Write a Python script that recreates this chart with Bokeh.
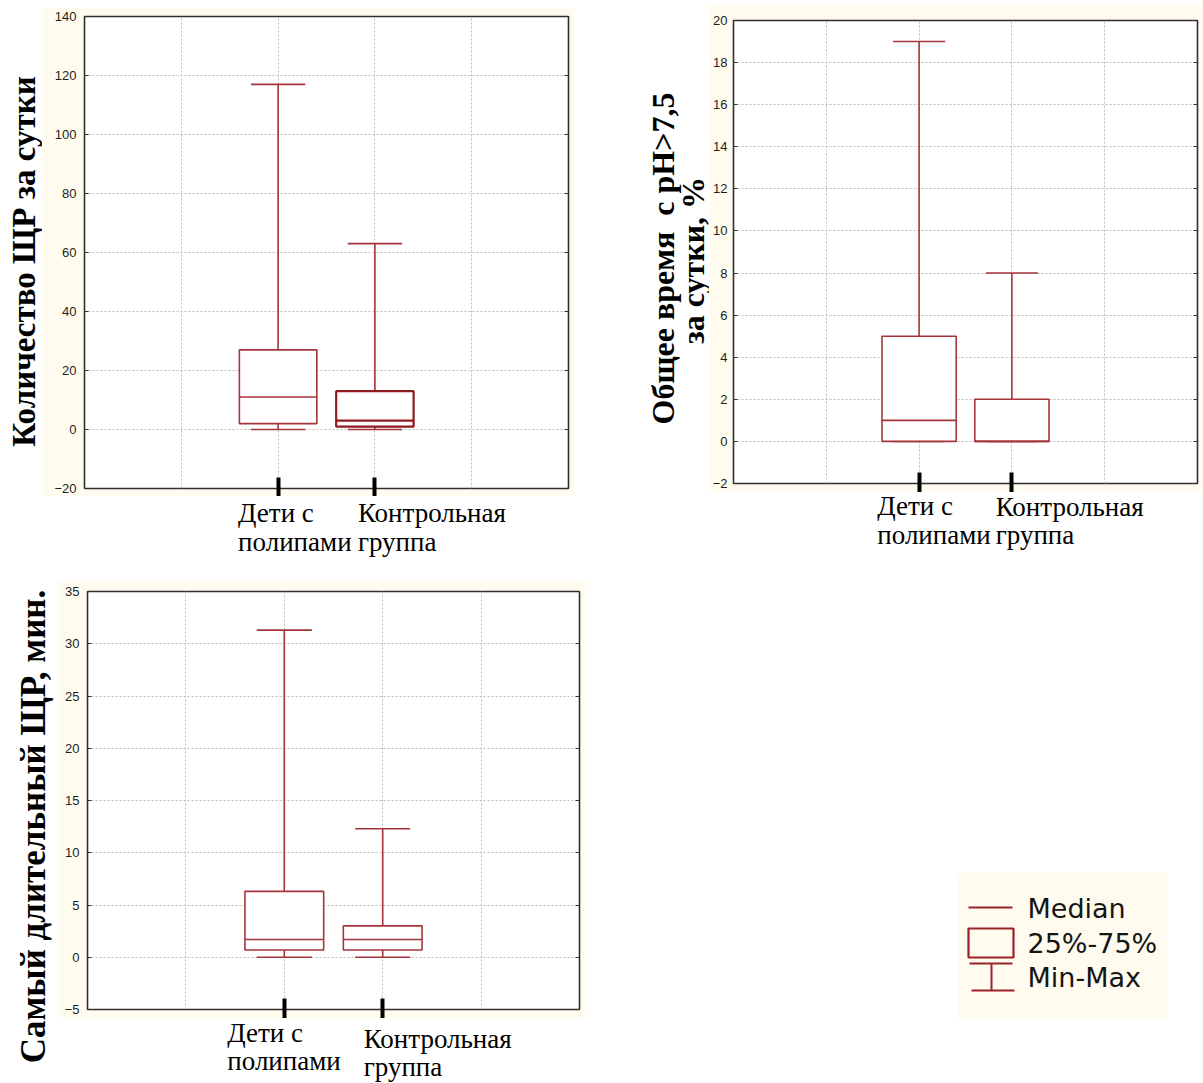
import math
from bokeh.plotting import figure
from bokeh.layouts import row, column
from bokeh.models import Range1d, FixedTicker, ColumnDataSource, Spacer, LinearAxis
from bokeh.embed import file_html
from bokeh.resources import INLINE
from bokeh.core.properties import value

# ---------------- data ----------------
cat_line1 = ["Дети с", "Контрольная"]
cat_line2 = ["полипами", "группа"]
cat_pos = [2, 3]
x_grid_ticks = [1, 2, 3, 4]

# Panel 1: Количество ЩР за сутки
p1_min = [0, 0]
p1_q1 = [2, 1]
p1_med = [11, 3]
p1_q3 = [27, 13]
p1_max = [117, 63]
p1_ticks = [-20, 0, 20, 40, 60, 80, 100, 120, 140]

# Panel 2: Общее время с pH>7,5 за сутки, %
p2_min = [0, 0]
p2_q1 = [0, 0]
p2_med = [1, 0]
p2_q3 = [5, 2]
p2_max = [19, 8]
p2_ticks = [-2, 0, 2, 4, 6, 8, 10, 12, 14, 16, 18, 20]

# Panel 3: Самый длительный ЩР, мин.
p3_min = [0, 0]
p3_q1 = [0.7, 0.7]
p3_med = [1.7, 1.7]
p3_q3 = [6.3, 3.0]
p3_max = [31.3, 12.3]
p3_ticks = [-5, 0, 5, 10, 15, 20, 25, 30, 35]

legend_labels = ["Median", "25%-75%", "Min-Max"]

# ---------------- styles ----------------
CREAM = "#FFFCEF"
RED = "#A5353A"
DARK = "#8E1B1F"
SERIF = "Liberation Serif"
SANS = "Liberation Sans"
BOX_HALF = 0.4
CAP_HALF = 0.28


def bare(width, height, x_range, y_range, bl=0, br=0, bt=0, bb=0):
    p = figure(width=width, height=height, x_range=x_range, y_range=y_range,
               toolbar_location=None, output_backend="svg", title=None,
               x_axis_location=None, y_axis_location=None, frame_align=False)
    p.min_border = 0
    p.min_border_left = bl
    p.min_border_right = br
    p.min_border_top = bt
    p.min_border_bottom = bb
    p.outline_line_color = None
    for g in p.grid:
        g.visible = False
    p.background_fill_color = "white"
    p.border_fill_color = "white"
    return p


def core(width, height, borders, ticks, mn, q1, med, q3, mx, box_colors, box_widths,
         standoff=8):
    bl, br, bt, bb = borders
    p = figure(width=width, height=height, x_range=Range1d(0, 5),
               y_range=Range1d(ticks[0], ticks[-1]), toolbar_location=None,
               output_backend="svg", title=None, frame_align=False)
    p.min_border = 0
    p.min_border_left = bl
    p.min_border_right = br
    p.min_border_top = bt
    p.min_border_bottom = bb
    p.background_fill_color = "white"
    p.border_fill_color = CREAM
    p.outline_line_color = "#2e2e2e"
    p.outline_line_width = 1.6

    yax = p.yaxis[0]
    yax.ticker = FixedTicker(ticks=ticks)
    yax.axis_line_color = None
    yax.major_tick_in = 4
    yax.major_tick_out = 0
    yax.minor_tick_line_color = None
    yax.major_tick_line_color = "#333333"
    yax.major_label_standoff = standoff
    yax.major_label_text_font = SANS
    yax.major_label_text_font_size = "13px"
    yax.major_label_text_color = "#1e1e1e"

    rax = LinearAxis(ticker=FixedTicker(ticks=ticks), axis_line_color=None,
                     major_tick_in=4, major_tick_out=0, minor_tick_line_color=None,
                     major_tick_line_color="#333333", major_label_standoff=0,
                     major_label_text_font_size="0px",
                     major_label_overrides={t: "" for t in ticks})
    p.add_layout(rax, "right")

    xax = p.xaxis[0]
    xax.ticker = FixedTicker(ticks=cat_pos)
    xax.axis_line_color = None
    xax.major_tick_in = 11
    xax.major_tick_out = bb
    xax.major_tick_line_width = 4
    xax.major_tick_line_color = "black"
    xax.minor_tick_line_color = None
    xax.major_label_standoff = 0
    xax.major_label_text_font_size = "0px"
    xax.major_label_overrides = {2: "", 3: ""}

    p.xgrid.ticker = FixedTicker(ticks=x_grid_ticks)
    for g in (p.xgrid[0], p.ygrid[0]):
        g.grid_line_color = "#bdbdbd"
        g.grid_line_dash = "2 2"
        g.grid_line_width = 1

    src = ColumnDataSource(dict(
        x=cat_pos,
        left=[c - BOX_HALF for c in cat_pos],
        right=[c + BOX_HALF for c in cat_pos],
        cl=[c - CAP_HALF for c in cat_pos],
        cr=[c + CAP_HALF for c in cat_pos],
        mn=mn, q1=q1, med=med, q3=q3, mx=mx,
        bcolor=box_colors, blw=box_widths,
    ))
    p.segment(x0="x", y0="q3", x1="x", y1="mx", source=src, line_color=RED, line_width=1.6)
    p.segment(x0="x", y0="mn", x1="x", y1="q1", source=src, line_color=RED, line_width=1.6)
    p.segment(x0="cl", y0="mx", x1="cr", y1="mx", source=src, line_color=RED, line_width=1.6)
    p.segment(x0="cl", y0="mn", x1="cr", y1="mn", source=src, line_color=RED, line_width=1.6)
    p.quad(left="left", right="right", bottom="q1", top="q3", source=src,
           fill_color="white", line_color="bcolor", line_width="blw")
    p.segment(x0="left", y0="med", x1="right", y1="med", source=src,
              line_color="bcolor", line_width="blw")
    return p


def title_fig(x0, x1, y0, y1, items):
    p = bare(x1 - x0, y1 - y0, Range1d(x0, x1), Range1d(y1, y0))
    for txt, cx, cy, size in items:
        p.text(x=[cx], y=[cy], text=[txt], angle=math.pi / 2, text_align="center",
               text_baseline="middle", text_font=value(SERIF), text_font_style="bold",
               text_font_size=size, text_color="black")
    return p


def labels_fig(c, width, y0, y1, bl, br, cfg):
    p = bare(width, y1 - y0, c.x_range, Range1d(y1, y0), bl=bl, br=br)
    for i, (xo, b1, b2) in enumerate(cfg):
        for txt, yy in ((cat_line1[i], b1), (cat_line2[i], b2)):
            p.text(x=[cat_pos[i]], y=[yy], text=[txt], x_offset=xo, text_align="left",
                   text_baseline="alphabetic", text_font=value(SERIF),
                   text_font_size="27px", text_color="black")
    return p


# ---------- panel 1 (page x 0-632, y 0-578) ----------
c1 = core(532, 489, (42, 6, 9, 8), p1_ticks, p1_min, p1_q1, p1_med, p1_q3, p1_max,
          [RED, DARK], [1.6, 2.2])
t1 = title_fig(0, 42, 0, 578, [("Количество ЩР за сутки", 23, 261, "33px")])
l1 = labels_fig(c1, 532, 496, 578, 42, 6, [(-40, 512, 541), (-17, 512, 541)])
block1 = row(t1, column(Spacer(width=532, height=7), c1, l1), Spacer(width=58, height=578))

# ---------- panel 3 (page x 0-632, y 578-1083) ----------
c3 = core(527, 438, (29, 6, 11, 9), p3_ticks, p3_min, p3_q1, p3_med, p3_q3, p3_max,
          [RED, RED], [1.6, 1.6])
t3 = title_fig(0, 58, 578, 1083, [("Самый длительный ЩР, мин.", 33, 826, "35px")])
l3 = labels_fig(c3, 527, 1018, 1083, 29, 6, [(-57, 1032, 1060), (-19, 1038, 1066)])
block3 = row(t3, column(Spacer(width=527, height=2), c3, l3), Spacer(width=47, height=505))

# ---------- panel 2 (page x 632-1203, y 0-560) ----------
c2 = core(494, 488, (21, 6, 16, 9), p2_ticks, p2_min, p2_q1, p2_med, p2_q3, p2_max,
          [RED, RED], [1.6, 1.6], standoff=6)
t2 = title_fig(632, 709, 0, 560, [("Общее время\u00a0 с pH>7,5", 662, 258, "32px"),
                                  ("за сутки, %", 692, 260, "32px")])
l2 = labels_fig(c2, 494, 492, 560, 21, 6, [(-40, 505, 534), (-15, 506, 534)])
block2 = row(t2, column(Spacer(width=494, height=4), c2, l2))

# ---------- legend (page x 632-1203, y 560-1083) ----------
leg = bare(571, 523, Range1d(632, 1203), Range1d(1083, 560))
LEG_RED = "#9A2226"
leg.quad(left=[958], right=[1167], top=[872], bottom=[1018], fill_color=CREAM, line_color=None)
leg.segment(x0=[968], y0=[907], x1=[1012], y1=[907], line_color=LEG_RED, line_width=2)
leg.quad(left=[968], right=[1013], top=[928], bottom=[957], fill_color=None,
         line_color=LEG_RED, line_width=2.2)
leg.segment(x0=[969, 991, 971], y0=[963, 963, 990], x1=[1012, 991, 1014], y1=[963, 990, 990],
            line_color=LEG_RED, line_width=2)
leg.text(x=[1027, 1027, 1027], y=[908, 943, 977], text=legend_labels,
         text_font=value("DejaVu Sans"), text_font_size="27px",
         text_baseline="middle", text_align="left", text_color="#151515")

layout = row(column(block1, block3), column(block2, leg))
open("out.html", "w").write(file_html(layout, INLINE))
